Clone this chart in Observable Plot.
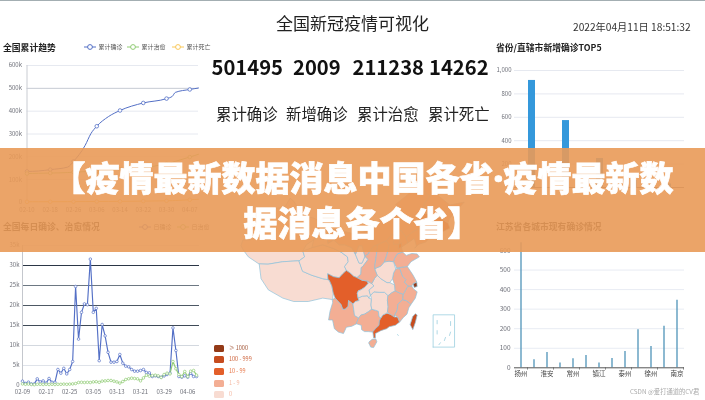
<!DOCTYPE html>
<html lang="zh">
<head>
<meta charset="utf-8">
<script src="https://cdn.jsdelivr.net/npm/d3@7"></script>
<script src="https://cdn.jsdelivr.net/npm/@observablehq/plot@0.6"></script>
<style>
html,body{margin:0;padding:0;background:#fff}
#page{position:relative;width:705px;height:400px;overflow:hidden;background:#fff;font-family:"Noto Sans CJK SC","Noto Sans",sans-serif;border-top:1px solid #a3aeb2;box-sizing:border-box;filter:blur(.3px)}
.abs{position:absolute;white-space:nowrap;line-height:1}
.chart{position:absolute}
.chart svg{display:block;overflow:visible}
#banner{position:absolute;left:0;top:147px;width:705px;height:104px;background:rgba(233,154,88,.9);z-index:5}
#bannerText{position:absolute;left:10px;top:147px;width:705px;z-index:6;text-align:center;color:#fff;font-weight:900;font-size:34px;line-height:43px;padding-top:7px;white-space:nowrap;-webkit-text-stroke:.7px #fff}
#bannerText .dot{font-family:"Noto Sans",sans-serif;font-size:34px}
</style>
</head>
<body>
<div id="page"></div>
<script>
// ---------- header values ----------
const pageTitle = "全国新冠疫情可视化";
const clockText = "2022年04月11日 18:51:32";
const kpiValues = ["501495", "2009", "211238", "14262"];
const kpiLabels = ["累计确诊", "新增确诊", "累计治愈", "累计死亡"];
const bannerLines = ["【疫情最新数据消息中国各省<span class=\"dot\">·</span>疫情最新数", "据消息各个省】"];
const watermark = "CSDN @爱打通道的CV君";

// ---------- cumulative trend ----------
const trendDates = ["02-10","02-14","02-18","02-24","02-26","03-02","03-04","03-06","03-10","03-14","03-22","03-30","04-01","04-02","04-07","04-10"];
const trendConfirmed = [136000,138000,144000,155000,180000,250000,302000,334000,376000,403000,436000,455000,465000,482000,495000,501495];
const trendCured = [127000,128000,129000,131000,133000,135000,136000,137000,141000,146000,152000,170000,176000,180000,199000,211238];
const trendDead = [3000,3200,3400,3600,3700,4000,4200,4400,4700,5000,6000,7500,8000,8500,12000,14262];
const trendTicks = ["02-10","02-18","02-26","03-06","03-14","03-22","03-30","04-07"];
const trendSeries = ["累计确诊","累计治愈","累计死亡"];

// ---------- daily confirmed / cured, one value per day from 02-09 ----------
const dailyStart = "02-09";
const dailyConfirmed = [1080,500,830,400,400,1660,900,1150,600,1750,800,800,4000,3080,4300,2900,4000,6000,24750,11600,18300,20400,20200,31600,18300,19300,6200,15250,12400,8300,5830,5830,6000,7750,5580,4830,4670,4000,3580,3580,3750,4000,3250,3170,2250,2420,2250,2080,2400,2750,3080,14400,8750,2250,2080,2420,2080,3080,2250,2250];
const dailyCured = [400,300,350,250,200,300,300,250,300,250,300,250,300,300,350,300,350,400,500,750,800,750,800,750,900,950,800,1100,1150,1250,1250,1080,900,600,1000,1500,1670,1830,1750,1670,1170,1900,2580,2330,2500,2580,2420,2000,2750,3080,2900,6000,4170,2750,2250,3500,2250,3580,3750,2580];
const dailyTicks = ["02-09","02-17","02-25","03-05","03-13","03-21","03-29","04-06"];
const dailySeries = ["日确诊","日治愈"];
const dailyGridValues = [5000,10000,15000,20000,25000,30000,35000];
const dailyGridColors = ["#dfe3ea","#d3d8df","#3f4a57","#4d5864","#6d7883","#2b3646","#e5e8ee"];

// ---------- province top five ----------
const topRanks = ["1","2","3","4","5"];
const topValues = [915,572,248,60,30];

// ---------- Jiangsu cities ----------
const cityNames = ["扬州","苏州","淮安","无锡","常州","宿迁","镇江","盐城","泰州","连云港","徐州","南通","南京"];
const cityValues = [640,41,78,24,46,63,24,48,84,195,109,213,345];

// ---------- map ----------
const mapBuckets = ["≥ 1000","100 - 999","10 - 99","1 - 9","0"];
const mapColors = ["#933a17","#c64c1e","#e35f2a","#f3ae94","#f8dcd2"];
const provinces = [
 ["新疆",4,[[73.5,39.4],[74,40.5],[76,40.5],[78.5,41.2],[80.2,42.2],[80.2,45],[82.5,45.3],[83,47],[85.5,47.2],[87,49.1],[88,48.5],[90.5,45.5],[93.5,45],[95.5,44.2],[96.4,42.7],[93.5,40.5],[91.5,39.5],[90.5,38.2],[91,37],[89.5,36.2],[85,36],[81,35.5],[78.5,35.5],[75.5,37],[74,38.5]]],
 ["西藏",4,[[78.5,35.5],[79,32.5],[81,30.2],[85,28.5],[88,27.8],[92,27.8],[96,28.5],[98.7,28.2],[98.9,29.5],[98.5,31],[97.8,32.2],[97.5,32.3],[96,32.5],[93,33.2],[90.5,34],[89.5,36.2],[85,36],[81,35.5]]],
 ["青海",4,[[89.5,36.2],[91,37],[90.5,38.2],[93,38.9],[96,39.5],[99,38.7],[101,38],[102.8,37],[103,36],[102,35],[102.5,34.2],[101.5,33.5],[100.5,32.7],[99,32.9],[97.4,33.5],[97.5,32.3],[96,32.5],[93,33.2],[90.5,34]]],
 ["甘肃",4,[[96.4,42.7],[97.2,42.7],[97.5,39.8],[99,40.5],[100.5,39.5],[102,39.5],[104,38.9],[105,37.5],[106,35.7],[106.8,35.7],[107.6,37.1],[108.5,36.5],[107,35],[106.6,34.8],[106.5,33.5],[105.5,32.7],[104.5,33],[103.5,33.7],[102.5,34.2],[102,35],[103,36],[102.8,37],[101,38],[99,38.7],[96,39.5],[93,38.9],[93.5,40.5]]],
 ["宁夏",4,[[107.6,37.1],[106.8,35.7],[106,35.7],[105,37.5],[105.9,39.3],[106.8,39.3]]],
 ["内蒙古",3,[[97.2,42.7],[100,42.6],[105,41.7],[110,42.7],[112,45],[115,45.5],[117.5,47],[116,47.8],[119.7,50],[120.9,53.2],[121.5,52],[124,50.5],[125.5,49.5],[124,48],[123.5,46],[122,45],[123.5,43.2],[122,42.6],[120.5,42],[119,41],[117.5,42.5],[116,41.5],[115,41.5],[113.5,40.3],[111.1,39.5],[110,39.2],[108.5,37.6],[107.6,37.1],[106.8,39.3],[105.9,39.3],[105,37.5],[104,38.9],[102,39.5],[100.5,39.5],[99,40.5],[97.5,39.8]]],
 ["四川",2,[[97.4,33.5],[99,32.9],[100.5,32.7],[101.5,33.5],[102.5,34.2],[103.5,33.7],[104.5,33],[105.5,32.7],[106.8,32.2],[108.3,32],[108.5,31.5],[107.5,30.7],[106.5,30.2],[105.8,30],[105.5,29.5],[105.7,28.6],[106,28],[105,27.8],[104.3,27.3],[103.1,28],[103,26.8],[102.2,26.2],[101.5,26.2],[101,27.2],[100,28],[99.4,28.5],[98.9,29.5],[98.5,31],[97.8,32.2],[97.5,32.3]]],
 ["云南",3,[[98.7,28.2],[99.4,28.5],[100,28],[101,27.2],[101.5,26.2],[102.2,26.2],[103,26.8],[103.1,28],[104.3,27.3],[104.5,26.3],[104.8,24.9],[105.9,24.4],[105.3,23.2],[104,22.7],[102.5,22.5],[101.7,21.2],[100.3,21.5],[99.2,22.2],[98.7,24],[97.6,24],[98,25.8],[98.7,27.5]]],
 ["贵州",4,[[104.5,26.3],[104.3,27.3],[105,27.8],[106,28],[105.7,28.6],[107,28.9],[108.3,29],[108.7,28.5],[109.4,28.3],[109.3,27],[109.5,26.2],[108.6,25.7],[107.5,25.2],[106.5,25],[105.9,24.4],[104.8,24.9]]],
 ["重庆",4,[[105.7,28.6],[105.5,29.5],[105.8,30],[106.5,30.2],[107.5,30.7],[108.5,31.5],[108.3,32],[109.5,31.5],[110.1,31],[108.8,30.2],[109.2,29.1],[108.7,28.5],[108.3,29],[107,28.9]]],
 ["广西",3,[[105.9,24.4],[106.5,25],[107.5,25.2],[108.6,25.7],[109.5,26.2],[110.5,26],[111.3,25.8],[111.5,24.7],[112,24.4],[111.6,23.8],[111.5,22.9],[110.5,22.2],[109.8,21.5],[108.5,21.6],[107.5,21.6],[106.7,22],[106.6,22.9],[105.3,23.2]]],
 ["广东",2,[[109.8,21.5],[110,20.3],[110.5,20.3],[110.5,21.2],[112,21.8],[113.6,22.2],[114.3,22.6],[116,22.9],[117.2,23.6],[116.6,24.6],[115.7,24.6],[115.8,25],[114.5,25.2],[113.6,25.4],[112.5,25],[112,24.4],[111.6,23.8],[111.5,22.9],[110.5,22.2]]],
 ["海南",3,[[108.7,19.2],[109.2,18.4],[110,18.3],[110.9,19.5],[110.6,20.1],[109.6,20],[108.8,19.5]]],
 ["湖南",4,[[109.4,28.3],[109.2,29.1],[110.1,29.8],[111.5,29.7],[113,29.7],[114,29],[113.8,28],[114,26.7],[113.8,25.6],[113.6,25.4],[112.5,25],[112,24.4],[111.5,24.7],[111.3,25.8],[110.5,26],[109.5,26.2],[109.3,27]]],
 ["湖北",4,[[108.8,30.2],[110.1,31],[109.5,31.5],[110.3,32.6],[111,33.2],[112,32.5],[113.7,31.7],[114.5,31.7],[115.8,31.2],[116,30],[115,29.6],[114,29],[113,29.7],[111.5,29.7],[110.1,29.8],[109.2,29.1]]],
 ["江西",3,[[114,29],[115,29.6],[116,30],[117,29.6],[118.2,29.3],[118,28.2],[116.7,27.2],[116.5,26],[115.8,25],[115.7,24.6],[114.5,25.2],[113.8,25.6],[114,26.7],[113.8,28]]],
 ["福建",3,[[117.2,23.6],[118.2,24.5],[119.2,25.2],[119.7,26.5],[120.3,27.2],[119,28],[118,28.2],[116.7,27.2],[116.5,26],[115.8,25],[116.6,24.6]]],
 ["浙江",3,[[118.2,29.3],[118,28.2],[119,28],[120.3,27.2],[121.5,28.5],[122,29.8],[121,30.4],[120.5,31],[119.5,31],[118.9,30.3]]],
 ["安徽",3,[[116,30],[117,29.6],[118.2,29.3],[118.9,30.3],[119.5,31],[118.5,31.8],[118.9,32.3],[118,33],[117.2,34.6],[116.1,34.5],[115.5,33.7],[115.2,32.5],[115.8,31.2]]],
 ["江苏",3,[[116.4,34.7],[117.2,34.6],[118,33],[118.9,32.3],[118.5,31.8],[119.5,31],[120.5,31],[120.9,31.4],[121.9,31.8],[120.9,33.2],[119.3,35],[118,34.9]]],
 ["上海",0,[[120.9,31.4],[121.2,30.7],[122,30.9],[121.9,31.7]]],
 ["山东",3,[[115.5,36],[116.4,34.7],[118,34.9],[119.3,35],[120.3,36],[122.6,37],[122,37.6],[120.5,37.7],[119,37.3],[118,38],[116.5,37.6],[115.8,36.7]]],
 ["河南",4,[[110.4,34.3],[111,33.2],[112,32.5],[113.7,31.7],[114.5,31.7],[115.2,32.5],[115.5,33.7],[116.1,34.5],[115.5,36],[114.3,36.1],[113,36],[112,35.1],[110.4,34.6]]],
 ["陕西",3,[[105.5,32.7],[106.8,32.2],[108.3,32],[109.5,31.5],[110.3,32.6],[111,33.2],[110.4,34.3],[110.4,35.5],[110.8,37.5],[111.1,39.5],[110,39.2],[108.5,37.6],[107.6,37.1],[108.5,36.5],[107,35],[106.6,34.8],[106.5,33.5]]],
 ["山西",3,[[110.4,34.6],[112,35.1],[113,36],[113.7,37.5],[114.3,39.5],[113.5,40.3],[111.1,39.5],[110.8,37.5],[110.4,35.5]]],
 ["河北",3,[[114.3,36.1],[115.5,36],[115.8,36.7],[116.5,37.6],[118,38],[117.7,39],[119.5,39.9],[119,41],[117.5,42.5],[116,41.5],[115,41.5],[113.5,40.3],[114.3,39.5],[113.7,37.5],[113,36]]],
 ["北京",3,[[115.6,39.6],[117,39.6],[117.3,40.6],[116.3,41],[115.5,40.2]]],
 ["天津",2,[[116.9,38.7],[117.7,39],[117.7,39.9],[117,39.6]]],
 ["辽宁",3,[[119.5,39.9],[121.2,40.8],[121.8,39.2],[121.3,38.8],[122.5,39.6],[124.3,40],[125.5,41],[125,42],[123.5,43.2],[122,42.6],[120.5,42],[119,41]]],
 ["吉林",1,[[125.5,41],[128,41.8],[131,42.9],[130.5,44],[128,45.2],[125,46],[123.5,46],[122,45],[123.5,43.2],[125,42]]],
 ["黑龙江",3,[[125,46],[128,45.2],[130.5,44],[131,45],[135,48.3],[131,47.7],[128,49.5],[126,52.6],[123.5,53.5],[120.9,53.2],[121.5,52],[124,50.5],[125.5,49.5],[124,48],[123.5,46]]],
 ["台湾",1,[[120.1,23],[120.8,22],[121.5,23.5],[122,25],[121.5,25.3],[120.8,24.7]]]
];
const insetStrokes = [
 [[126.4,18.4],[132.3,18.4],[132.3,25.06],[126.4,25.06],[126.4,18.4]],
 [[127.5,23.9],[127.5,23.2]],[[131.2,23.67],[131.2,22.85]],[[127.5,21.8],[127.5,21.1]],
 [[131.2,21.5],[130.9,20.8]],[[129.8,20.4],[129.5,19.75]],[[128.4,19.3],[128,18.9]],
 [[116.6,21],[116.8,20.8]]
];

// ---------- drawing ----------
const page = document.getElementById("page");
const FONT = '"Noto Sans CJK SC","Noto Sans",sans-serif';
const AXIS = "#6e7079", BLUE = "#5470c6", GREEN = "#91cc75", ORANGE = "#fac858";
const parseDay = d3.utcParse("%Y-%m-%d");
const day = s => parseDay("2022-" + s);
const dayLabel = d3.utcFormat("%m-%d");

function text(str, x, y, css = {}) {
  const el = document.createElement("div");
  el.className = "abs";
  el.textContent = str;
  Object.assign(el.style, {left: x + "px", top: y + "px"}, css);
  page.appendChild(el);
  return el;
}
function legend(label, color, x, y) {
  const box = document.createElement("div");
  box.className = "abs";
  box.style.left = x + "px"; box.style.top = y + "px";
  box.innerHTML = `<svg width="12" height="8" style="position:absolute;left:0;top:0"><line x1="0" x2="12" y1="4" y2="4" stroke="${color}" stroke-width="1"/><circle cx="6" cy="4" r="2.4" fill="#fff" stroke="${color}" stroke-width="1"/></svg>`;
  page.appendChild(box);
  text(label, x + 14.5, y + 1, {fontSize: "6px", color: "#555"});
}
function mount(plot, left, top, z = 1) {
  const w = document.createElement("div");
  w.className = "chart";
  Object.assign(w.style, {left: left + "px", top: top + "px", zIndex: z});
  w.appendChild(plot);
  page.appendChild(w);
}
const plotStyle = {background: "transparent", fontFamily: FONT, fontSize: "6px", color: AXIS, overflow: "visible"};

// header (page has a 1px top border, positions are inside it)
text(pageTitle, 276, 12.5, {fontSize: "17px", color: "#222"});
text(clockText, 573, 21, {fontSize: "10.2px", color: "#333"});
const kpiX = [211.5, 293, 352.5, 429];
const kpiLabelX = [216, 286, 357, 428];
kpiValues.forEach((v, i) => text(v, kpiX[i], 56, {fontSize: "20.2px", fontWeight: 700, color: "#111"}));
kpiLabels.forEach((v, i) => text(v, kpiLabelX[i], 104.5, {fontSize: "15.4px", color: "#222"}));

const titleCss = {fontSize: "8.8px", fontWeight: 700, color: "#222"};
text("全国累计趋势", 3, 42.5, titleCss);
text("全国每日确诊、治愈情况", 3, 222, titleCss);
text("省份/直辖市新增确诊TOP5", 496, 42.5, titleCss);
text("江苏省各城市现有确诊情况", 496, 222, titleCss);
trendSeries.forEach((s, i) => legend(s, [BLUE, GREEN, ORANGE][i], [84, 127, 172][i], 42));
dailySeries.forEach((s, i) => legend(s, [BLUE, GREEN][i], [139, 177][i], 221.5));
text(watermark, 630, 388, {fontSize: "6.3px", color: "#a9a9a9"});

// cumulative trend
const trendRows = trendDates.flatMap((d, i) => [
  {date: day(d), s: trendSeries[0], v: trendConfirmed[i], mark: trendTicks.includes(d)},
  {date: day(d), s: trendSeries[1], v: trendCured[i], mark: trendTicks.includes(d)},
  {date: day(d), s: trendSeries[2], v: trendDead[i], mark: trendTicks.includes(d)}
]);
mount(Plot.plot({
  width: 205, height: 165, marginLeft: 26.5, marginRight: 7, marginTop: 10, marginBottom: 18,
  style: plotStyle,
  x: {type: "utc", domain: [day("02-10"), day("04-10")]},
  y: {domain: [0, 600000]},
  color: {domain: trendSeries, range: [BLUE, GREEN, ORANGE]},
  marks: [
    Plot.ruleY([100000,200000,300000,400000,600000], {stroke: "#e6e9f0", strokeWidth: 1}),
    Plot.ruleY([500000], {stroke: "#c6cbd3", strokeWidth: 1}),
    Plot.ruleX([day("02-10")], {stroke: "#c9ccd2", strokeWidth: 1}),
    Plot.axisY({ticks: [0,100000,200000,300000,400000,500000,600000], tickSize: 0, tickPadding: 5, fontSize: 6, tickFormat: d => d ? d / 1000 + "k" : "0", label: null, fill: AXIS}),
    Plot.axisX({ticks: trendTicks.map(day), tickFormat: dayLabel, tickSize: 0, tickPadding: 5, fontSize: 6, label: null, fill: AXIS}),
    Plot.line(trendRows, {x: "date", y: "v", z: "s", stroke: "s", strokeWidth: 1, curve: "monotone-x"}),
    Plot.dot(trendRows.filter(d => d.mark), {x: "date", y: "v", stroke: "s", fill: "#fff", r: 1.8, strokeWidth: .8})
  ]
}), 0, 54);

// daily confirmed / cured
const dailyRows = dailyConfirmed.flatMap((v, i) => {
  const date = d3.utcDay.offset(day(dailyStart), i);
  return [{date, s: dailySeries[0], v}, {date, s: dailySeries[1], v: dailyCured[i]}];
});
mount(Plot.plot({
  width: 205, height: 165, marginLeft: 22, marginRight: 6, marginTop: 10, marginBottom: 15,
  style: plotStyle,
  x: {type: "utc", domain: [day("02-09"), day("04-10")]},
  y: {domain: [0, 35000]},
  color: {domain: dailySeries, range: [BLUE, GREEN]},
  marks: [
    Plot.ruleY(dailyGridValues, {stroke: (d, i) => dailyGridColors[i], strokeWidth: 1}),
    Plot.ruleX([day("02-09")], {stroke: "#c4c7cd", strokeWidth: 1}),
    Plot.axisY({ticks: [0, ...dailyGridValues], tickSize: 0, tickPadding: 3, fontSize: 6, tickFormat: d => d ? d / 1000 + "k" : "0", label: null, fill: AXIS}),
    Plot.axisX({ticks: dailyTicks.map(day), tickFormat: dayLabel, tickSize: 0, tickPadding: 4, fontSize: 6, label: null, fill: AXIS}),
    Plot.line(dailyRows, {x: "date", y: "v", z: "s", stroke: "s", strokeWidth: 1.15}),
    Plot.dot(dailyRows, {x: "date", y: "v", stroke: "s", fill: "#fff", r: 1.3, strokeWidth: .7})
  ]
}), 0, 234);

// province top five (its category labels are not legible under the banner)
mount(Plot.plot({
  width: 215, height: 150, marginLeft: 24, marginRight: 21, marginTop: 15, marginBottom: 18,
  style: plotStyle,
  x: {type: "band", domain: topRanks, paddingInner: .8, paddingOuter: .4, axis: null},
  y: {domain: [0, 1000]},
  marks: [
    Plot.ruleY([200,400,600,800,1000], {stroke: "#e6e9f0", strokeWidth: 1}),
    Plot.axisY({ticks: [0,200,400,600,800,1000], tickFormat: d3.format(","), tickSize: 0, tickPadding: 3, fontSize: 6, label: null, fill: AXIS}),
    Plot.barY(topRanks.map((r, i) => ({r, v: topValues[i]})), {x: "r", y: "v", fill: "#3498db"}),
    Plot.ruleY([0], {stroke: AXIS, strokeWidth: 1})
  ]
}), 490, 54);

// Jiangsu cities
const everyOther = cityNames.filter((c, i) => i % 2 === 0);
mount(Plot.plot({
  width: 215, height: 160, marginLeft: 24, marginRight: 21, marginTop: 10, marginBottom: 32.7,
  style: plotStyle,
  x: {type: "band", domain: cityNames, paddingInner: .9, paddingOuter: .45},
  y: {domain: [0, 600]},
  marks: [
    Plot.ruleY([100,200,300,400,500,600], {stroke: "#e8ecf3", strokeWidth: 1}),
    Plot.axisY({ticks: [0,100,200,300,400,500,600], tickSize: 0, tickPadding: 4, fontSize: 6.5, label: null, fill: AXIS}),
    Plot.axisX({ticks: everyOther, tickSize: 0, tickPadding: 4, fontSize: 6.5, label: null, fill: "#444"}),
    Plot.ruleX(cityNames.map((c, i) => ({c, v: cityValues[i]})), {x: "c", y1: 0, y2: "v", stroke: "#4f94b8", strokeWidth: 1.3}),
    Plot.ruleX(everyOther, {x: d => d, y1: 0, y2: -12, dx: 6.5, stroke: "#777", strokeWidth: .8}),
    Plot.ruleY([0], {stroke: "#555", strokeWidth: 1})
  ]
}), 490, 239);

// map: plain lon/lat on linear scales, with the aspect of the source map
const provinceRows = provinces.flatMap(([name, bucket, coords]) =>
  coords.map(([lon, lat]) => ({name, bucket: mapBuckets[bucket], lon, lat})));
const insetRows = insetStrokes.flatMap((coords, k) => coords.map(([lon, lat]) => ({k, lon, lat})));
mount(Plot.plot({
  width: 285, height: 230, margin: 0,
  style: plotStyle,
  x: {domain: [63.7, 142.2], axis: null},
  y: {domain: [7.4, 54.8], axis: null},
  color: {domain: mapBuckets, range: mapColors},
  marks: [
    Plot.line(provinceRows, {x: "lon", y: "lat", z: "name", fill: "bucket", stroke: "#8fc1da", strokeWidth: .7, curve: "linear-closed"}),
    Plot.line(insetRows, {x: "lon", y: "lat", z: "k", stroke: "#9ccfe0", strokeWidth: .8})
  ]
}), 205, 169);

// map legend
mapBuckets.forEach((b, i) => {
  const y = 343.5 + i * 11.7;
  text("", 214, y, {width: "10px", height: "7px", background: mapColors[i], borderRadius: "1.5px"});
  text(b, 229, y + 1, {fontSize: "5.5px", color: mapColors[Math.min(i, 3)], opacity: .85});
});

// banner
const banner = document.createElement("div");
banner.id = "banner";
page.appendChild(banner);
const bt = document.createElement("div");
bt.id = "bannerText";
bt.innerHTML = bannerLines.join("<br>");
page.appendChild(bt);
</script>
</body>
</html>
